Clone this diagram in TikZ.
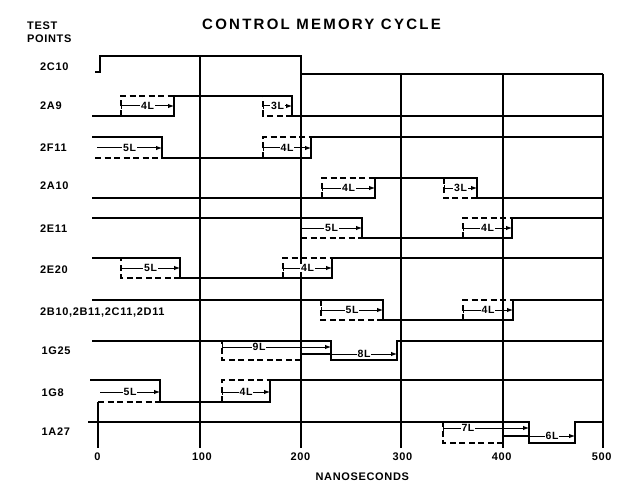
\documentclass[tikz,border=0pt]{standalone}
\usepackage{fontspec}
\setmainfont{Liberation Sans}
\newfontfamily\titlefont{Liberation Sans}[LetterSpace=15]
\newfontfamily\labfont{Liberation Sans}[LetterSpace=6]
\usetikzlibrary{arrows.meta}
\begin{document}
\begin{tikzpicture}[x=1pt,y=-1pt,
  sig/.style={line width=2pt, line join=miter},
  thin/.style={line width=2pt},
  gridl/.style={line width=1.7pt},
  dsh/.style={line width=2pt, dash pattern=on 6pt off 3.5pt},
  arr/.style={line width=1pt, -{Latex[length=6pt,width=4.5pt]}},
  barr/.style={line width=1pt, {Bar[width=6pt,line width=1.2pt]}-{Latex[length=6pt,width=4.5pt]}},
  lbl/.style={fill=white, inner sep=0.6pt, font=\labfont\bfseries\fontsize{10.5}{10.5}\selectfont},
  rowlab/.style={anchor=base west, inner sep=0pt, font=\labfont\bfseries\fontsize{11}{11}\selectfont},
  ticklab/.style={anchor=base, inner sep=0pt, font=\labfont\bfseries\fontsize{11}{11}\selectfont}]
\useasboundingbox (0,0) rectangle (621,484);
% titles
\node[anchor=base, inner sep=0pt, font=\titlefont\bfseries\fontsize{15}{15}\selectfont] (title) at (321.5,29.5) {CONTROL MEMORY CYCLE};
\node[rowlab] (test) at (27,29.3) {TEST};
\node[rowlab] (points) at (27,42.7) {POINTS};
% row labels
\node[rowlab] (l1) at (40,70.7) {2C10};
\node[rowlab] (l2) at (40,110) {2A9};
\node[rowlab] (l3) at (40,152) {2F11};
\node[rowlab] (l4) at (40,189.5) {2A10};
\node[rowlab] (l5) at (40,232) {2E11};
\node[rowlab] (l6) at (40,273) {2E20};
\node[rowlab] (l7) at (40,315) {2B10,2B11,2C11,2D11};
\node[rowlab] (l8) at (41.5,354) {1G25};
\node[rowlab] (l9) at (41.5,396) {1G8};
\node[rowlab] (l10) at (41.5,435.7) {1A27};
% axis labels
\node[ticklab] (t0) at (97.5,460.7) {0};
\node[ticklab] (t1) at (202,460.7) {100};
\node[ticklab] (t2) at (300.5,460.7) {200};
\node[ticklab] (t3) at (402.5,460.7) {300};
\node[ticklab] (t4) at (501.7,460.7) {400};
\node[ticklab] (t5) at (601.7,460.7) {500};
\node[ticklab] (ns) at (362.3,480.7) {NANOSECONDS};
% grid
\draw[gridl] (200,56) -- (200,448);
\draw[gridl] (301,56) -- (301,448);
\draw[gridl] (401,74) -- (401,448);
\draw[gridl] (503,74) -- (503,448);
\draw[gridl] (603,74) -- (603,448);
\draw[gridl] (98,402) -- (98,448);
% dashed boxes
\draw[dsh] (121,116) -- (121,96) -- (174,96);
\draw[dsh] (292,116) -- (263,116) -- (263,96);
\draw[dsh] (95,158) -- (162,158);
\draw[dsh] (263,158) -- (263,137) -- (311,137);
\draw[dsh] (322,198) -- (322,178) -- (375,178);
\draw[dsh] (477,198) -- (444,198) -- (444,178);
\draw[dsh] (301,238) -- (362,238);
\draw[dsh] (463,238) -- (463,218) -- (512,218);
\draw[dsh] (180,278) -- (121,278) -- (121,258);
\draw[dsh] (283,278) -- (283,258) -- (332,258);
\draw[dsh] (383,320) -- (321,320) -- (321,300);
\draw[dsh] (463,320) -- (463,300) -- (513,300);
\draw[dsh] (301,360) -- (222,360) -- (222,341);
\draw[dsh] (98,402) -- (160,402);
\draw[dsh] (222,402) -- (222,380) -- (270,380);
\draw[dsh] (503,443) -- (443,443) -- (443,422);
% signals
\draw[sig] (95,72) -- (100,72) -- (100,56) -- (301,56) -- (301,74) -- (603,74);
\draw[sig] (92,116) -- (174,116) -- (174,96) -- (292,96) -- (292,116) -- (603,116);
\draw[sig] (92,137) -- (162,137) -- (162,158) -- (311,158) -- (311,137) -- (603,137);
\draw[sig] (92,198) -- (375,198) -- (375,178) -- (477,178) -- (477,198) -- (603,198);
\draw[sig] (92,218) -- (362,218) -- (362,238) -- (512,238) -- (512,218) -- (603,218);
\draw[sig] (92,258) -- (180,258) -- (180,278) -- (332,278) -- (332,258) -- (603,258);
\draw[sig] (92,300) -- (383,300) -- (383,320) -- (513,320) -- (513,300) -- (603,300);
\draw[sig] (92,341) -- (331,341) -- (331,360) -- (397,360) -- (397,341) -- (603,341);
\draw[sig] (90,380) -- (160,380) -- (160,402) -- (270,402) -- (270,380) -- (603,380);
\draw[sig] (88,422) -- (529,422) -- (529,443) -- (575,443) -- (575,422) -- (603,422);
\draw[thin] (301,354) -- (331,354);
\draw[thin] (503,436) -- (529,436);
% delay arrows
\draw[barr] (121,106) -- node[lbl]{4L} (174,106);
\draw[barr] (263,106) -- node[lbl]{3L} (292,106);
\draw[arr] (97,148) -- node[lbl]{5L} (162,148);
\draw[barr] (263,148) -- node[lbl]{4L} (311,148);
\draw[barr] (322,188) -- node[lbl]{4L} (375,188);
\draw[barr] (444,188) -- node[lbl]{3L} (477,188);
\draw[barr] (301,228) -- node[lbl]{5L} (362,228);
\draw[barr] (463,228) -- node[lbl]{4L} (512,228);
\draw[barr] (121,268) -- node[lbl]{5L} (180,268);
\draw[barr] (283,268) -- node[lbl]{4L} (332,268);
\draw[barr] (321,310) -- node[lbl]{5L} (383,310);
\draw[barr] (463,310) -- node[lbl]{4L} (513,310);
\draw[barr] (222,347) -- node[lbl,pos=0.34]{9L} (331,347);
\draw[arr] (331,354) -- node[lbl]{8L} (397,354);
\draw[arr] (100,392) -- node[lbl]{5L} (160,392);
\draw[barr] (222,392) -- node[lbl]{4L} (270,392);
\draw[barr] (443,428) -- node[lbl,pos=0.29]{7L} (529,428);
\draw[arr] (529,436) -- node[lbl]{6L} (575,436);
\end{tikzpicture}
\end{document}
